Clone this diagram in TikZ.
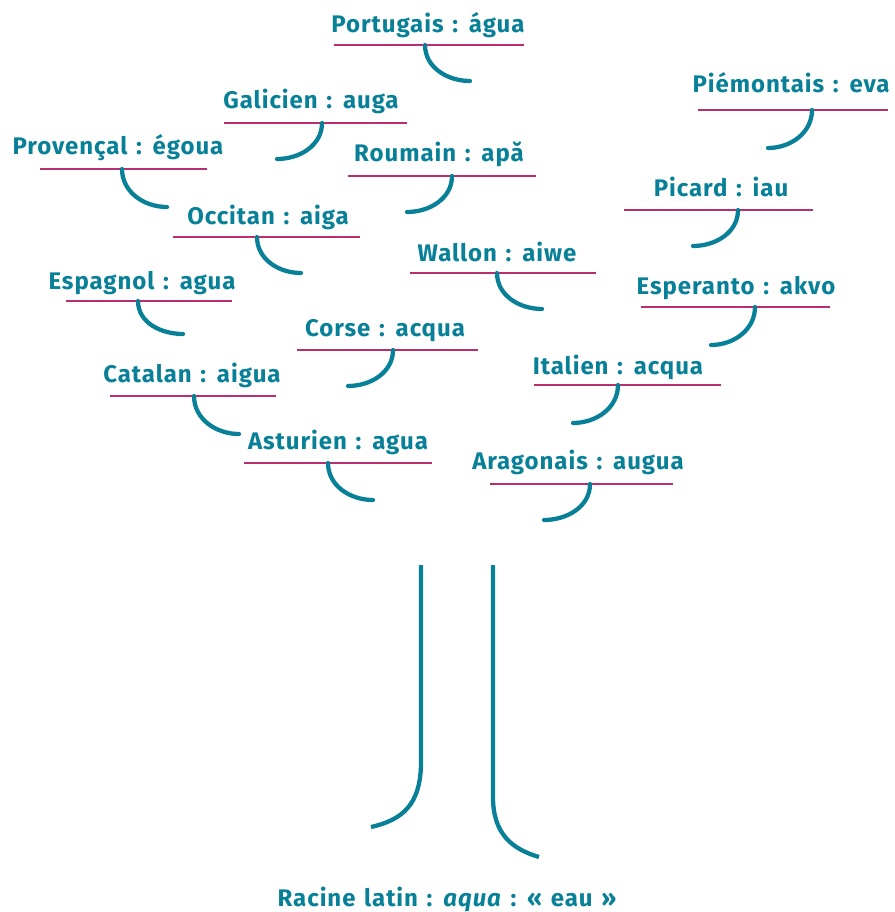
\documentclass[tikz,border=0pt]{standalone}
\usepackage{fontspec}
\setmainfont{Fira Sans}[LetterSpace=4.0,WordSpace=1.3]
\usetikzlibrary{positioning}

\definecolor{eaubleu}{RGB}{8,128,152}
\definecolor{trait}{RGB}{184,46,110}

\begin{document}
\begin{tikzpicture}[x=0.75pt,y=-0.75pt,
        lang/.style={anchor=base,text=eaubleu,inner sep=0pt,
            font=\fontsize{18}{21}\selectfont\bfseries},
        rule/.style={draw=trait,line width=1.5pt},
        hook/.style={draw=eaubleu,line width=3.2pt,line cap=round},
        hookr/.style={out=-90,in=180},
        hookl/.style={out=-90,in=0}
    ]
\useasboundingbox (0,0) rectangle (894,912);
% branches
\node[lang] (portugais) at (428,33) {Portugais : água};
\draw[rule] (334,45) -- (524,45);
\draw[hook] (425,45) to[hookr] (470,81);
\node[lang] (galicien) at (311,109) {Galicien : auga};
\draw[rule] (224,123) -- (407,123);
\draw[hook] (322,123) to[hookl] (277,159);
\node[lang] (provencal) at (118,155) {Provençal : égoua};
\draw[rule] (40,169) -- (207,169);
\draw[hook] (122,169) to[hookr] (167,207);
\node[lang] (roumain) at (439,162) {Roumain : apă};
\draw[rule] (348,176) -- (536,176);
\draw[hook] (452,176) to[hookl] (407,212);
\node[lang] (piemontais) at (791,93) {Piémontais : eva};
\draw[rule] (698,110) -- (888,110);
\draw[hook] (812,110) to[hookl] (768,148);
\node[lang] (picard) at (721,197) {Picard : iau};
\draw[rule] (624,210) -- (813,210);
\draw[hook] (738,210) to[hookl] (693,246);
\node[lang] (occitan) at (268,225) {Occitan : aiga};
\draw[rule] (173,237) -- (360,237);
\draw[hook] (257,237) to[hookr] (301,273);
\node[lang] (wallon) at (497,262) {Wallon : aiwe};
\draw[rule] (410,273) -- (596,273);
\draw[hook] (497,273) to[hookr] (542,309);
\node[lang] (espagnol) at (142,290) {Espagnol : agua};
\draw[rule] (66,301) -- (232,301);
\draw[hook] (138,301) to[hookr] (183,334);
\node[lang] (esperanto) at (736,295) {Esperanto : akvo};
\draw[rule] (641,307) -- (830,307);
\draw[hook] (755,307) to[hookl] (711,345);
\node[lang] (corse) at (385,337) {Corse : acqua};
\draw[rule] (297,350) -- (478,350);
\draw[hook] (393,350) to[hookl] (348,386);
\node[lang] (italien) at (618,374) {Italien : acqua};
\draw[rule] (534,385) -- (721,385);
\draw[hook] (618,385) to[hookl] (573,423);
\node[lang] (catalan) at (192,382) {Catalan : aigua};
\draw[rule] (110,396) -- (276,396);
\draw[hook] (194,396) to[hookr] (239,434);
\node[lang] (asturien) at (338,449) {Asturien : agua};
\draw[rule] (244,463) -- (432,463);
\draw[hook] (328,463) to[hookr] (373,500);
\node[lang] (aragonais) at (578,469) {Aragonais : augua};
\draw[rule] (490,484) -- (673,484);
\draw[hook] (590,484) to[hookl] (544,520);
% trunk
\draw[hook,line cap=butt] (421,565) -- (421,762)
    .. controls (421,805) and (402,820) .. (371,827);
\draw[hook,line cap=butt] (493,565) -- (493,797)
    .. controls (493,834) and (512,849) .. (539,857);
\node[lang] (racine) at (447,906) {Racine latin : \textit{aqua} : «~eau~»};
\end{tikzpicture}
\end{document}
